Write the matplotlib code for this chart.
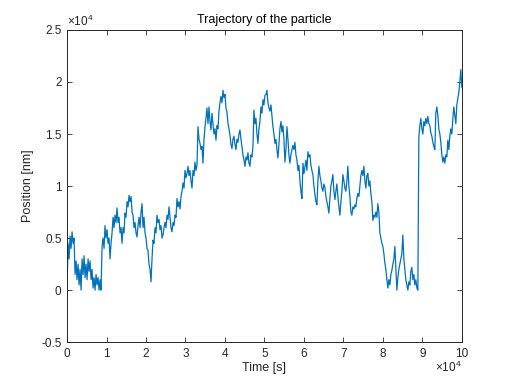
import numpy as np
import matplotlib
matplotlib.use('Agg')
import matplotlib.pyplot as plt
from matplotlib.ticker import FuncFormatter

plt.rcParams['font.family'] = ['Liberation Sans', 'DejaVu Sans']
plt.rcParams['mathtext.fontset'] = 'custom'
plt.rcParams['mathtext.rm'] = 'Liberation Sans'
plt.rcParams['axes.unicode_minus'] = False

# position of the particle, units of 1e4 nm, sampled evenly over 0..1e5 s
position = [
    0.05, 0.45, 0.30, 0.52, 0.40, 0.56, 0.45, 0.50, 0.15, 0.28,
    0.10, 0.25, 0.05, 0.20, 0.00, 0.30, 0.15, 0.33, 0.12, 0.25,
    0.10, 0.30, 0.18, 0.28, 0.10, 0.20, 0.02, 0.12, 0.00, 0.15,
    0.05, 0.12, 0.00, 0.10, 0.00, 0.42, 0.50, 0.40, 0.62, 0.50,
    0.58, 0.45, 0.50, 0.30, 0.45, 0.55, 0.70, 0.60, 0.72, 0.65,
    0.79, 0.65, 0.70, 0.55, 0.60, 0.45, 0.60, 0.55, 0.74, 0.70,
    0.85, 0.80, 0.91, 0.85, 0.90, 0.75, 0.72, 0.60, 0.65, 0.55,
    0.51, 0.62, 0.70, 0.60, 0.75, 0.83, 0.60, 0.70, 0.55, 0.50,
    0.40, 0.38, 0.25, 0.20, 0.08, 0.30, 0.48, 0.45, 0.60, 0.55,
    0.72, 0.65, 0.68, 0.58, 0.62, 0.50, 0.53, 0.60, 0.65, 0.60,
    0.72, 0.68, 0.80, 0.70, 0.60, 0.56, 0.65, 0.62, 0.72, 0.70,
    0.88, 0.80, 0.85, 0.78, 0.90, 0.95, 1.03, 0.98, 1.15, 1.08,
    1.12, 1.19, 1.10, 1.15, 1.05, 0.98, 1.15, 1.10, 1.23, 1.15,
    1.20, 1.57, 1.45, 1.41, 1.35, 1.38, 1.22, 1.45, 1.57, 1.65,
    1.75, 1.60, 1.76, 1.62, 1.54, 1.70, 1.60, 1.50, 1.55, 1.44,
    1.58, 1.55, 1.72, 1.80, 1.86, 1.80, 1.92, 1.85, 1.88, 1.75,
    1.71, 1.60, 1.55, 1.49, 1.40, 1.36, 1.45, 1.48, 1.40, 1.35,
    1.45, 1.42, 1.50, 1.54, 1.45, 1.38, 1.30, 1.25, 1.19, 1.28,
    1.25, 1.32, 1.22, 1.19, 1.30, 1.28, 1.38, 1.73, 1.60, 1.65,
    1.50, 1.41, 1.55, 1.62, 1.76, 1.70, 1.83, 1.78, 1.87, 1.88,
    1.92, 1.80, 1.75, 1.72, 1.78, 1.68, 1.57, 1.50, 1.41, 1.45,
    1.35, 1.27, 1.40, 1.55, 1.62, 1.52, 1.58, 1.45, 1.23, 1.35,
    1.57, 1.45, 1.30, 1.22, 1.30, 1.35, 1.39, 1.35, 1.42, 1.30,
    1.25, 1.15, 1.20, 1.05, 0.95, 0.88, 1.22, 1.12, 1.18, 1.25,
    1.15, 1.33, 1.28, 1.30, 1.20, 1.15, 1.11, 1.00, 0.92, 0.85,
    0.82, 1.05, 1.19, 1.10, 1.05, 0.98, 0.95, 1.02, 0.99, 0.90,
    0.85, 0.80, 0.74, 0.88, 1.00, 1.05, 1.11, 0.95, 0.87, 0.95,
    1.02, 0.90, 0.80, 0.72, 0.85, 0.95, 1.11, 1.05, 0.98, 0.95,
    1.05, 1.19, 1.00, 0.90, 0.75, 0.72, 0.80, 0.78, 0.82, 0.80,
    0.88, 0.93, 0.90, 1.00, 1.10, 1.15, 1.10, 1.19, 1.05, 0.98,
    1.10, 1.12, 1.00, 1.05, 0.93, 0.85, 0.67, 0.72, 0.70, 0.75,
    0.70, 0.83, 0.75, 0.55, 0.50, 0.45, 0.42, 0.35, 0.26, 0.20,
    0.10, 0.02, 0.10, 0.05, 0.15, 0.19, 0.25, 0.30, 0.42, 0.20,
    0.00, 0.12, 0.20, 0.25, 0.30, 0.35, 0.53, 0.30, 0.20, 0.10,
    0.05, 0.00, 0.08, 0.05, 0.18, 0.22, 0.10, 0.15, 0.05, 0.10,
    0.02, 0.00, 1.47, 1.58, 1.65, 1.55, 1.50, 1.62, 1.58, 1.65,
    1.60, 1.67, 1.60, 1.58, 1.51, 1.48, 1.42, 1.38, 1.35, 1.70,
    1.76, 1.68, 1.55, 1.50, 1.42, 1.30, 1.23, 1.28, 1.22, 1.30,
    1.28, 1.44, 1.35, 1.48, 1.55, 1.50, 1.65, 1.76, 1.68, 1.60,
    1.78, 1.84, 1.90, 2.00, 2.12, 1.95,
]
t_end = 1e5

pos = np.array(position) * 1e4
t = np.linspace(0, t_end, len(pos))

ink = '#262626'
fig = plt.figure(figsize=(5.12, 3.84), dpi=100)
ax = fig.add_axes([0.131, 0.109, 0.771, 0.813])
ax.plot(t, pos, color='#0072BD', lw=0.9)

ax.set_xlim(0, 1e5)
ax.set_ylim(-0.5e4, 2.5e4)
ax.set_xticks(np.arange(0, 1.01e5, 1e4))
ax.set_yticks(np.arange(-0.5e4, 2.51e4, 0.5e4))
ax.xaxis.set_major_formatter(FuncFormatter(lambda v, p: f'{v / 1e4:g}'))
ax.yaxis.set_major_formatter(FuncFormatter(lambda v, p: f'{v / 1e4:g}'))
ax.tick_params(direction='in', length=3.5, width=0.6, top=True, right=True,
               labelsize=8.5, colors=ink, pad=4)
for s in ax.spines.values():
    s.set_color(ink)
    s.set_linewidth(0.7)

ax.set_title('Trajectory of the particle', fontsize=9, color='black', pad=5)
ax.set_xlabel('Time [s]', fontsize=9, color=ink, labelpad=2)
ax.set_ylabel('Position [nm]', fontsize=9, color=ink, labelpad=5)

ax.text(0.0, 1.004, r'$\times\mathregular{10^4}$', transform=ax.transAxes,
        fontsize=8.5, color=ink, ha='left', va='bottom')
ax.text(1.0, -0.055, r'$\times\mathregular{10^4}$', transform=ax.transAxes,
        fontsize=8.5, color=ink, ha='right', va='top')

fig.savefig('out.png', dpi=100)
